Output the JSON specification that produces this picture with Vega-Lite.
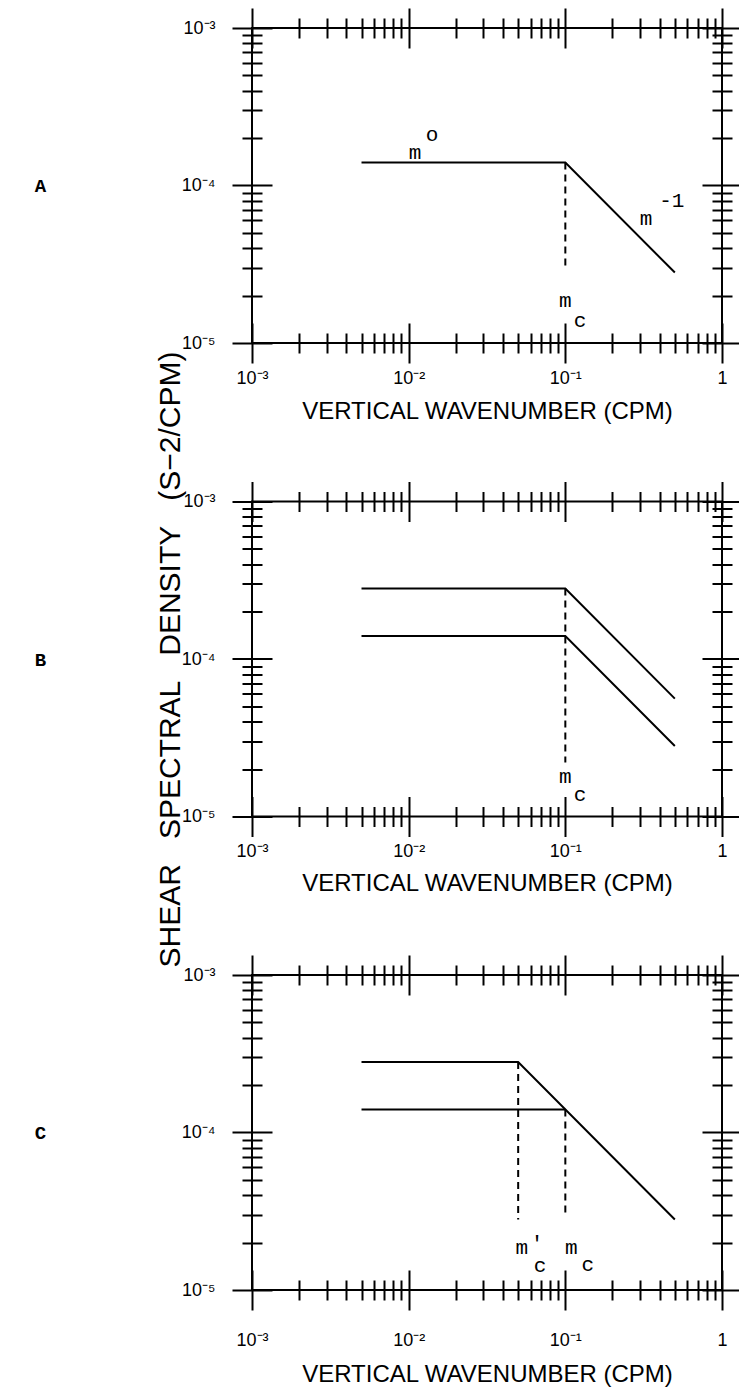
{
  "$schema": "https://vega.github.io/schema/vega-lite/v6.json",
  "autosize": "none",
  "padding": {"left": 252, "top": 28, "right": 487, "bottom": 1364},
  "background": "white",
  "bounds": "flush",
  "spacing": 158.5,
  "config": {
    "view": {"stroke": "black", "strokeWidth": 2},
    "axis": {"domain": false, "grid": false, "tickColor": "black", "tickWidth": 2, "labelColor": "black", "labelFont": "Liberation Sans", "labelFontSize": 18, "labelFlush": false, "labelOverlap": false, "titleColor": "black", "titleFont": "Liberation Sans", "titleFontSize": 24, "titleFontWeight": "normal"}
  },
  "datasets": {
    "lines": [
      {"panel": "A", "seg": "A1", "x": 0.005, "y": 0.00014},
      {"panel": "A", "seg": "A1", "x": 0.1, "y": 0.00014},
      {"panel": "A", "seg": "A1", "x": 0.5, "y": 0.000028},
      {"panel": "B", "seg": "B1", "x": 0.005, "y": 0.00028},
      {"panel": "B", "seg": "B1", "x": 0.1, "y": 0.00028},
      {"panel": "B", "seg": "B1", "x": 0.5, "y": 0.000056},
      {"panel": "B", "seg": "B2", "x": 0.005, "y": 0.00014},
      {"panel": "B", "seg": "B2", "x": 0.1, "y": 0.00014},
      {"panel": "B", "seg": "B2", "x": 0.5, "y": 0.000028},
      {"panel": "C", "seg": "C1", "x": 0.005, "y": 0.00028},
      {"panel": "C", "seg": "C1", "x": 0.05, "y": 0.00028},
      {"panel": "C", "seg": "C1", "x": 0.5, "y": 0.000028},
      {"panel": "C", "seg": "C2", "x": 0.005, "y": 0.00014},
      {"panel": "C", "seg": "C2", "x": 0.1, "y": 0.00014}
    ],
    "dash": [
      {"panel": "A", "x": 0.1, "y": 0.00014, "y2": 0.00003},
      {"panel": "B", "x": 0.1, "y": 0.00028, "y2": 0.000022},
      {"panel": "C", "x": 0.05, "y": 0.00028, "y2": 0.000028},
      {"panel": "C", "x": 0.1, "y": 0.00014, "y2": 0.000031}
    ],
    "notes": [
      {"panel": "A", "x": 0.011, "y": 0.00016, "t": "m"},
      {"panel": "A", "x": 0.0141, "y": 0.00021, "t": "o"},
      {"panel": "A", "x": 0.327, "y": 0.0000616, "t": "m"},
      {"panel": "A", "x": 0.478, "y": 0.00008, "t": "-1"},
      {"panel": "A", "x": 0.1, "y": 0.0000186, "t": "m"},
      {"panel": "A", "x": 0.124, "y": 0.0000138, "t": "c"},
      {"panel": "B", "x": 0.1, "y": 0.0000177, "t": "m"},
      {"panel": "B", "x": 0.124, "y": 0.0000136, "t": "c"},
      {"panel": "C", "x": 0.0528, "y": 0.0000184, "t": "m"},
      {"panel": "C", "x": 0.066, "y": 0.0000196, "t": "'"},
      {"panel": "C", "x": 0.069, "y": 0.0000143, "t": "c"},
      {"panel": "C", "x": 0.109, "y": 0.0000184, "t": "m"},
      {"panel": "C", "x": 0.139, "y": 0.0000145, "t": "c"}
    ]
  },
  "vconcat": [
    {
      "width": 470, "height": 315,
      "resolve": {"scale": {"x": "shared", "y": "shared"}, "axis": {"x": "independent", "y": "independent"}},
      "layer": [
        {
          "data": {"name": "lines"},
          "transform": [{"filter": "datum.panel == 'A'"}],
          "mark": {"type": "line", "color": "black", "strokeWidth": 2, "clip": false},
          "encoding": {
            "x": {"field": "x", "type": "quantitative", "scale": {"type": "log", "domain": [0.001, 1], "nice": false},
              "axis": {"orient": "bottom", "offset": -20, "tickSize": 40, "values": [0.001, 0.01, 0.1, 1], "labelExpr": "datum.value < 0.005 ? '10⁻³' : datum.value < 0.05 ? '10⁻²' : datum.value < 0.5 ? '10⁻¹' : '1'", "labelPadding": 15, "labelBaseline": "middle", "title": "VERTICAL  WAVENUMBER  (CPM)", "titleY": 88, "titleBaseline": "middle"}},
            "y": {"field": "y", "type": "quantitative", "scale": {"type": "log", "domain": [0.00001, 0.001], "nice": false},
              "axis": {"orient": "left", "offset": -20, "tickSize": 40, "values": [0.00001, 0.0001, 0.001], "labelExpr": "datum.value < 0.00005 ? '10⁻⁵' : datum.value < 0.0005 ? '10⁻⁴' : '10⁻³'", "labelPadding": 17, "labelBaseline": "middle", "title": null}},
            "detail": {"field": "seg"}
          }
        },
        {
          "data": {"name": "dash"},
          "transform": [{"filter": "datum.panel == 'A'"}],
          "mark": {"type": "rule", "color": "black", "strokeWidth": 2, "strokeDash": [7, 5]},
          "encoding": {
            "x": {"field": "x", "type": "quantitative", "axis": {"orient": "top", "offset": -20, "tickSize": 40, "values": [0.001, 0.01, 0.1, 1], "labels": false, "title": null}},
            "y": {"field": "y", "type": "quantitative", "axis": {"orient": "right", "offset": -20, "tickSize": 40, "values": [0.00001, 0.0001, 0.001], "labels": false, "title": null}},
            "y2": {"field": "y2"}
          }
        },
        {
          "data": {"name": "notes"},
          "transform": [{"filter": "datum.panel == 'A'"}],
          "mark": {"type": "text", "font": "Liberation Mono", "fontSize": 21, "color": "black", "align": "center", "baseline": "middle"},
          "encoding": {
            "x": {"field": "x", "type": "quantitative", "axis": {"orient": "bottom", "offset": -10, "tickSize": 20, "values": [0.002, 0.003, 0.004, 0.005, 0.006, 0.007, 0.008, 0.009, 0.02, 0.03, 0.04, 0.05, 0.06, 0.07, 0.08, 0.09, 0.2, 0.3, 0.4, 0.5, 0.6, 0.7, 0.8, 0.9], "labels": false, "title": null}},
            "y": {"field": "y", "type": "quantitative", "axis": {"orient": "left", "offset": -10, "tickSize": 20, "values": [0.00002, 0.00003, 0.00004, 0.00005, 0.00006, 0.00007, 0.00008, 0.00009, 0.0002, 0.0003, 0.0004, 0.0005, 0.0006, 0.0007, 0.0008, 0.0009], "labels": false, "title": "A", "titleAngle": 0, "titleX": -222, "titleY": 157.5, "titleAlign": "center", "titleBaseline": "middle", "titleFont": "Liberation Mono", "titleFontSize": 19, "titleFontWeight": "bold"}},
            "text": {"field": "t"}
          }
        },
        {
          "data": {"name": "lines"},
          "transform": [{"filter": "datum.panel == 'A'"}],
          "mark": {"type": "line", "opacity": 0},
          "encoding": {
            "x": {"field": "x", "type": "quantitative", "axis": {"orient": "top", "offset": -10, "tickSize": 20, "values": [0.002, 0.003, 0.004, 0.005, 0.006, 0.007, 0.008, 0.009, 0.02, 0.03, 0.04, 0.05, 0.06, 0.07, 0.08, 0.09, 0.2, 0.3, 0.4, 0.5, 0.6, 0.7, 0.8, 0.9], "labels": false, "title": null}},
            "y": {"field": "y", "type": "quantitative", "axis": {"orient": "right", "offset": -10, "tickSize": 20, "values": [0.00002, 0.00003, 0.00004, 0.00005, 0.00006, 0.00007, 0.00008, 0.00009, 0.0002, 0.0003, 0.0004, 0.0005, 0.0006, 0.0007, 0.0008, 0.0009], "labels": false, "title": null}},
            "detail": {"field": "seg"}
          }
        }
      ]
    },
    {
      "width": 470, "height": 315,
      "resolve": {"scale": {"x": "shared", "y": "shared"}, "axis": {"x": "independent", "y": "independent"}},
      "layer": [
        {
          "data": {"name": "lines"},
          "transform": [{"filter": "datum.panel == 'B'"}],
          "mark": {"type": "line", "color": "black", "strokeWidth": 2, "clip": false},
          "encoding": {
            "x": {"field": "x", "type": "quantitative", "scale": {"type": "log", "domain": [0.001, 1], "nice": false},
              "axis": {"orient": "bottom", "offset": -20, "tickSize": 40, "values": [0.001, 0.01, 0.1, 1], "labelExpr": "datum.value < 0.005 ? '10⁻³' : datum.value < 0.05 ? '10⁻²' : datum.value < 0.5 ? '10⁻¹' : '1'", "labelPadding": 15, "labelBaseline": "middle", "title": "VERTICAL  WAVENUMBER  (CPM)", "titleY": 87, "titleBaseline": "middle"}},
            "y": {"field": "y", "type": "quantitative", "scale": {"type": "log", "domain": [0.00001, 0.001], "nice": false},
              "axis": {"orient": "left", "offset": -20, "tickSize": 40, "values": [0.00001, 0.0001, 0.001], "labelExpr": "datum.value < 0.00005 ? '10⁻⁵' : datum.value < 0.0005 ? '10⁻⁴' : '10⁻³'", "labelPadding": 17, "labelBaseline": "middle", "title": "SHEAR\u00a0\u00a0 SPECTRAL\u00a0\u00a0 DENSITY\u00a0\u00a0 (S\u22122/CPM)", "titleX": -102, "titleY": 157.5, "titleAngle": 270, "titleAlign": "center", "titleBaseline": "middle", "titleFontSize": 30}},
            "detail": {"field": "seg"}
          }
        },
        {
          "data": {"name": "dash"},
          "transform": [{"filter": "datum.panel == 'B'"}],
          "mark": {"type": "rule", "color": "black", "strokeWidth": 2, "strokeDash": [7, 5]},
          "encoding": {
            "x": {"field": "x", "type": "quantitative", "axis": {"orient": "top", "offset": -20, "tickSize": 40, "values": [0.001, 0.01, 0.1, 1], "labels": false, "title": null}},
            "y": {"field": "y", "type": "quantitative", "axis": {"orient": "right", "offset": -20, "tickSize": 40, "values": [0.00001, 0.0001, 0.001], "labels": false, "title": null}},
            "y2": {"field": "y2"}
          }
        },
        {
          "data": {"name": "notes"},
          "transform": [{"filter": "datum.panel == 'B'"}],
          "mark": {"type": "text", "font": "Liberation Mono", "fontSize": 21, "color": "black", "align": "center", "baseline": "middle"},
          "encoding": {
            "x": {"field": "x", "type": "quantitative", "axis": {"orient": "bottom", "offset": -10, "tickSize": 20, "values": [0.002, 0.003, 0.004, 0.005, 0.006, 0.007, 0.008, 0.009, 0.02, 0.03, 0.04, 0.05, 0.06, 0.07, 0.08, 0.09, 0.2, 0.3, 0.4, 0.5, 0.6, 0.7, 0.8, 0.9], "labels": false, "title": null}},
            "y": {"field": "y", "type": "quantitative", "axis": {"orient": "left", "offset": -10, "tickSize": 20, "values": [0.00002, 0.00003, 0.00004, 0.00005, 0.00006, 0.00007, 0.00008, 0.00009, 0.0002, 0.0003, 0.0004, 0.0005, 0.0006, 0.0007, 0.0008, 0.0009], "labels": false, "title": "B", "titleAngle": 0, "titleX": -222, "titleY": 157.5, "titleAlign": "center", "titleBaseline": "middle", "titleFont": "Liberation Mono", "titleFontSize": 19, "titleFontWeight": "bold"}},
            "text": {"field": "t"}
          }
        },
        {
          "data": {"name": "lines"},
          "transform": [{"filter": "datum.panel == 'B'"}],
          "mark": {"type": "line", "opacity": 0},
          "encoding": {
            "x": {"field": "x", "type": "quantitative", "axis": {"orient": "top", "offset": -10, "tickSize": 20, "values": [0.002, 0.003, 0.004, 0.005, 0.006, 0.007, 0.008, 0.009, 0.02, 0.03, 0.04, 0.05, 0.06, 0.07, 0.08, 0.09, 0.2, 0.3, 0.4, 0.5, 0.6, 0.7, 0.8, 0.9], "labels": false, "title": null}},
            "y": {"field": "y", "type": "quantitative", "axis": {"orient": "right", "offset": -10, "tickSize": 20, "values": [0.00002, 0.00003, 0.00004, 0.00005, 0.00006, 0.00007, 0.00008, 0.00009, 0.0002, 0.0003, 0.0004, 0.0005, 0.0006, 0.0007, 0.0008, 0.0009], "labels": false, "title": null}},
            "detail": {"field": "seg"}
          }
        }
      ]
    },
    {
      "width": 470, "height": 315,
      "resolve": {"scale": {"x": "shared", "y": "shared"}, "axis": {"x": "independent", "y": "independent"}},
      "layer": [
        {
          "data": {"name": "lines"},
          "transform": [{"filter": "datum.panel == 'C'"}],
          "mark": {"type": "line", "color": "black", "strokeWidth": 2, "clip": false},
          "encoding": {
            "x": {"field": "x", "type": "quantitative", "scale": {"type": "log", "domain": [0.001, 1], "nice": false},
              "axis": {"orient": "bottom", "offset": -20, "tickSize": 40, "values": [0.001, 0.01, 0.1, 1], "labelExpr": "datum.value < 0.005 ? '10⁻³' : datum.value < 0.05 ? '10⁻²' : datum.value < 0.5 ? '10⁻¹' : '1'", "labelPadding": 30, "labelBaseline": "middle", "title": "VERTICAL  WAVENUMBER  (CPM)", "titleY": 104, "titleBaseline": "middle"}},
            "y": {"field": "y", "type": "quantitative", "scale": {"type": "log", "domain": [0.00001, 0.001], "nice": false},
              "axis": {"orient": "left", "offset": -20, "tickSize": 40, "values": [0.00001, 0.0001, 0.001], "labelExpr": "datum.value < 0.00005 ? '10⁻⁵' : datum.value < 0.0005 ? '10⁻⁴' : '10⁻³'", "labelPadding": 17, "labelBaseline": "middle", "title": null}},
            "detail": {"field": "seg"}
          }
        },
        {
          "data": {"name": "dash"},
          "transform": [{"filter": "datum.panel == 'C'"}],
          "mark": {"type": "rule", "color": "black", "strokeWidth": 2, "strokeDash": [7, 5]},
          "encoding": {
            "x": {"field": "x", "type": "quantitative", "axis": {"orient": "top", "offset": -20, "tickSize": 40, "values": [0.001, 0.01, 0.1, 1], "labels": false, "title": null}},
            "y": {"field": "y", "type": "quantitative", "axis": {"orient": "right", "offset": -20, "tickSize": 40, "values": [0.00001, 0.0001, 0.001], "labels": false, "title": null}},
            "y2": {"field": "y2"}
          }
        },
        {
          "data": {"name": "notes"},
          "transform": [{"filter": "datum.panel == 'C'"}],
          "mark": {"type": "text", "font": "Liberation Mono", "fontSize": 21, "color": "black", "align": "center", "baseline": "middle"},
          "encoding": {
            "x": {"field": "x", "type": "quantitative", "axis": {"orient": "bottom", "offset": -10, "tickSize": 20, "values": [0.002, 0.003, 0.004, 0.005, 0.006, 0.007, 0.008, 0.009, 0.02, 0.03, 0.04, 0.05, 0.06, 0.07, 0.08, 0.09, 0.2, 0.3, 0.4, 0.5, 0.6, 0.7, 0.8, 0.9], "labels": false, "title": null}},
            "y": {"field": "y", "type": "quantitative", "axis": {"orient": "left", "offset": -10, "tickSize": 20, "values": [0.00002, 0.00003, 0.00004, 0.00005, 0.00006, 0.00007, 0.00008, 0.00009, 0.0002, 0.0003, 0.0004, 0.0005, 0.0006, 0.0007, 0.0008, 0.0009], "labels": false, "title": "C", "titleAngle": 0, "titleX": -222, "titleY": 157.5, "titleAlign": "center", "titleBaseline": "middle", "titleFont": "Liberation Mono", "titleFontSize": 19, "titleFontWeight": "bold"}},
            "text": {"field": "t"}
          }
        },
        {
          "data": {"name": "lines"},
          "transform": [{"filter": "datum.panel == 'C'"}],
          "mark": {"type": "line", "opacity": 0},
          "encoding": {
            "x": {"field": "x", "type": "quantitative", "axis": {"orient": "top", "offset": -10, "tickSize": 20, "values": [0.002, 0.003, 0.004, 0.005, 0.006, 0.007, 0.008, 0.009, 0.02, 0.03, 0.04, 0.05, 0.06, 0.07, 0.08, 0.09, 0.2, 0.3, 0.4, 0.5, 0.6, 0.7, 0.8, 0.9], "labels": false, "title": null}},
            "y": {"field": "y", "type": "quantitative", "axis": {"orient": "right", "offset": -10, "tickSize": 20, "values": [0.00002, 0.00003, 0.00004, 0.00005, 0.00006, 0.00007, 0.00008, 0.00009, 0.0002, 0.0003, 0.0004, 0.0005, 0.0006, 0.0007, 0.0008, 0.0009], "labels": false, "title": null}},
            "detail": {"field": "seg"}
          }
        }
      ]
    }
  ]
}
